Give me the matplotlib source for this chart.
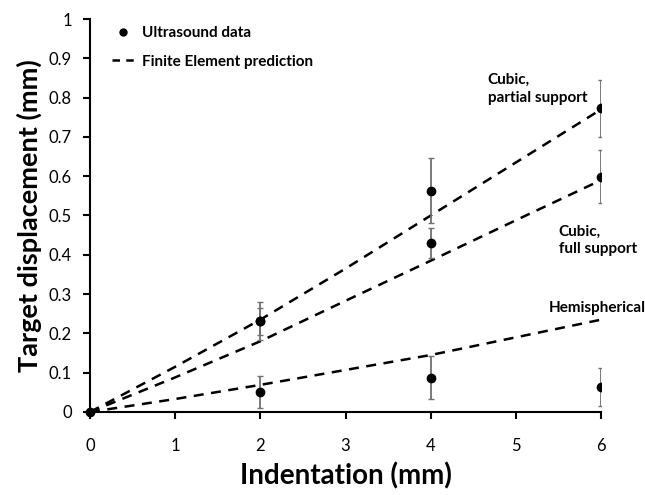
import numpy as np
import matplotlib.pyplot as plt
from matplotlib.lines import Line2D

plt.rcParams['font.family'] = ['Lato', 'DejaVu Sans']

# Ultrasound measurements (mean and error bar limits)
x_meas = [0, 2, 2, 4, 4, 4, 6, 6, 6]
y_meas = [0, 0.231, 0.231, 0.562, 0.429, 0.087, 0.774, 0.599, 0.064]
y_low = [0, 0.183, 0.196, 0.48, 0.391, 0.033, 0.70, 0.533, 0.016]
y_high = [0, 0.28, 0.265, 0.646, 0.467, 0.142, 0.845, 0.667, 0.113]
x_hemi = [2, 4, 6]
y_hemi = [0.051, 0.087, 0.064]
hemi_low = [0.009, 0.033, 0.016]
hemi_high = [0.092, 0.142, 0.113]

# Finite element predictions
x_fe = [0, 1, 2, 3, 4, 5, 6]
fe_partial = [0, 0.115, 0.235, 0.365, 0.50, 0.635, 0.77]
fe_full = [0, 0.088, 0.18, 0.283, 0.385, 0.488, 0.59]
fe_hemi = [0, 0.033, 0.069, 0.107, 0.145, 0.19, 0.235]

fig = plt.figure(figsize=(6.45, 4.95), dpi=100)
ax = fig.add_axes([0.1395, 0.1677, 0.7925, 0.7939])

for ys in (fe_partial, fe_full, fe_hemi):
    ax.plot(x_fe, ys, color='black', lw=1.8, ls=(0, (4, 3)), zorder=2)

# error bars for cubic cases
xs = np.array(x_meas[1:])
ym = np.array(y_meas[1:])
lo = ym - np.array(y_low[1:])
hi = np.array(y_high[1:]) - ym
mask = ym > 0.15
ax.errorbar(xs[mask], ym[mask], yerr=[lo[mask], hi[mask]], fmt='o', color='black',
            ecolor='#707070', elinewidth=1.3, capsize=2.5, markersize=6, zorder=3)
yh = np.array(y_hemi)
ax.errorbar(x_hemi, yh, yerr=[yh - np.array(hemi_low), np.array(hemi_high) - yh],
            fmt='o', color='black', ecolor='#707070', elinewidth=1.3, capsize=2.5,
            markersize=6, zorder=3)
ax.plot([x_meas[0]], [y_meas[0]], 'o', color='black', markersize=6, clip_on=False, zorder=4)

ax.set_xlim(0, 6)
ax.set_ylim(0, 1)
ax.set_xticks(range(0, 7))
ax.set_yticks(np.round(np.arange(0, 1.01, 0.1), 1))
ax.set_yticklabels(['0'] + ['%.1f' % v for v in np.arange(0.1, 0.95, 0.1)] + ['1'])
ax.spines['top'].set_visible(False)
ax.spines['right'].set_visible(False)
ax.spines['left'].set_linewidth(1.5)
ax.spines['bottom'].set_linewidth(1.5)
ax.tick_params(axis='both', direction='out', length=5, width=1.5, labelsize=12)
ax.tick_params(axis='x', pad=14)
ax.tick_params(axis='y', pad=8)

ax.set_xlabel('Indentation (mm)', fontsize=20, fontweight='bold', labelpad=6)
ax.set_ylabel('Target displacement (mm)', fontsize=19.5, fontweight='bold', labelpad=5)

ax.text(4.67, 0.822, 'Cubic,\npartial support', fontsize=11, fontweight='bold',
        linespacing=1.35, va='center')
ax.text(5.5, 0.437, 'Cubic,\nfull support', fontsize=11, fontweight='bold',
        linespacing=1.35, va='center')
ax.text(5.38, 0.265, 'Hemispherical', fontsize=11, fontweight='bold', va='center')

handles = [Line2D([], [], color='black', marker='o', ls='none', markersize=5),
           Line2D([], [], color='black', ls=(0, (3, 2.5)), lw=1.8)]
ax.legend(handles, ['Ultrasound data', 'Finite Element prediction'],
          loc='upper left', bbox_to_anchor=(0.043, 0.982), frameon=False,
          borderaxespad=0, borderpad=0,
          prop={'size': 11, 'weight': 'bold'}, handlelength=1.5,
          handletextpad=0.45, labelspacing=0.95)

fig.savefig('out.png', dpi=100)
